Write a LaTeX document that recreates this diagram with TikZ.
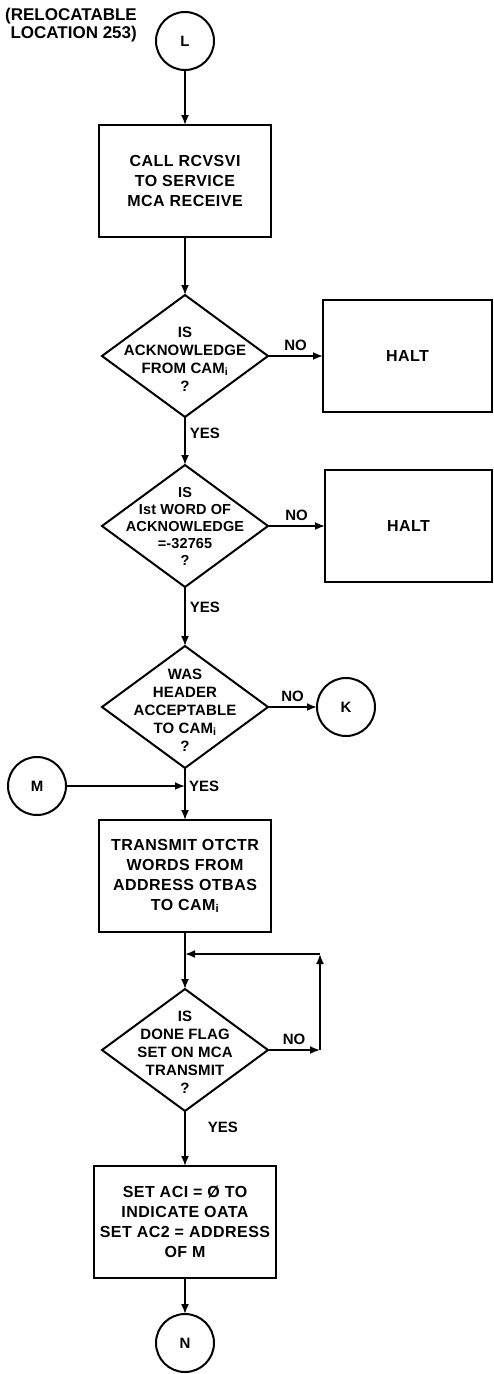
\documentclass[tikz,border=0pt]{standalone}
\usepackage{fontspec}
\setmainfont{Liberation Sans}
\newfontfamily\boxfont[LetterSpace=3]{Liberation Sans}
\newfontfamily\askfont[LetterSpace=1]{Liberation Sans}
\usetikzlibrary{arrows.meta,positioning,shapes.geometric}
\tikzset{
  process/.style={draw,line width=2.2pt,outer sep=0pt,minimum width=172pt,minimum height=112pt,align=center,font=\boxfont\bfseries\fontsize{16}{20}\selectfont},
  decision/.style={draw,diamond,line width=2pt,outer sep=0pt,minimum width=166pt,minimum height=122pt,inner sep=0pt},
  asktext/.style={align=center,inner sep=0pt,font=\askfont\bfseries\fontsize{15}{18}\selectfont},
  connector/.style={draw,circle,line width=2pt,outer sep=0pt,minimum size=58pt,inner sep=0pt,font=\bfseries\fontsize{15}{16}\selectfont},
  note/.style={align=right,inner sep=0pt,font=\bfseries\fontsize{17}{18}\selectfont},
  tag/.style={inner sep=4pt,font=\bfseries\fontsize{15}{18}\selectfont},
  flow/.style={-{Latex[length=10pt,width=8pt]},line width=1.8pt}
}
\begin{document}
\begin{tikzpicture}[x=1pt,y=1pt,node distance=55pt]
  \useasboundingbox (0,0) rectangle (494,-1374);
  % entry
  \node[connector] (L) at (185,-41) {L};
  \node[note,anchor=east] (reloc) at (137,-25) {(RELOCATABLE\\LOCATION 253)};
  \node[process,below=55pt of L] (rcv) {CALL RCVSVI\\TO SERVICE\\MCA RECEIVE};
  % acknowledge checks
  \node[decision,below=58pt of rcv] (ack) {};
  \node[asktext,yshift=-3pt] (ackq) at (ack) {IS\\ACKNOWLEDGE\\FROM CAM\textsubscript{i}\\?};
  \node[process,right=55pt of ack,minimum width=169pt] (halt1) {HALT};
  \node[decision,below=48pt of ack] (word) {};
  \node[asktext,font=\askfont\bfseries\fontsize{14.5}{17}\selectfont] (wordq) at (word) {IS\\Ist WORD OF\\ACKNOWLEDGE\\=-32765\\?};
  \node[process,right=57pt of word,minimum width=167pt] (halt2) {HALT};
  \node[decision,below=59pt of word] (hdr) {};
  \node[asktext,yshift=-3pt] (hdrq) at (hdr) {WAS\\HEADER\\ACCEPTABLE\\TO CAM\textsubscript{i}\\?};
  \node[connector,right=49pt of hdr] (K) {K};
  \coordinate[below=18pt of hdr] (mjoin);
  \node[connector,left=119pt of mjoin] (M) {M};
  % transmit loop
  \node[process,below=52pt of hdr] (xmit) {TRANSMIT OTCTR\\WORDS FROM\\ADDRESS OTBAS\\TO CAM\textsubscript{i}};
  \coordinate[below=22pt of xmit] (loopjoin);
  \node[decision,below=57pt of xmit] (done) {};
  \node[asktext,yshift=-2pt] (doneq) at (done) {IS\\DONE FLAG\\SET ON MCA\\TRANSMIT\\?};
  \coordinate[right=52pt of done.east] (loopse);
  \coordinate (loopne) at (loopse |- loopjoin);
  \node[process,below=55pt of done,minimum width=182pt] (setac) {SET ACI = Ø TO\\INDICATE OATA\\SET AC2 = ADDRESS\\OF M};
  \node[connector,below=36pt of setac] (N) {N};
  % connectors
  \draw[flow] (L) -- (rcv);
  \draw[flow] (rcv) -- (ack);
  \draw[flow] (ack) -- node[tag,above] (no1) {NO} (halt1);
  \draw[flow] (ack) -- node[tag,right,pos=0.35] (yes1) {YES} (word);
  \draw[flow] (word) -- node[tag,above] (no2) {NO} (halt2);
  \draw[flow] (word) -- node[tag,right,pos=0.35] (yes2) {YES} (hdr);
  \draw[flow] (hdr) -- node[tag,above] (no3) {NO} (K);
  \draw[flow] (hdr) -- (xmit);
  \draw[flow] (M) -- (mjoin);
  \node[tag,right] (yes3) at (mjoin) {YES};
  \draw[flow] (xmit) -- (done);
  \draw[flow] (done) -- node[tag,above] (no4) {NO} (loopse);
  \draw[flow] (loopse) -- (loopne);
  \draw[flow] (loopne) -- (loopjoin);
  \draw[flow] (done) -- node[tag,right,pos=0.3,xshift=18pt] (yes4) {YES} (setac);
  \draw[flow] (setac) -- (N);
\end{tikzpicture}
\end{document}
